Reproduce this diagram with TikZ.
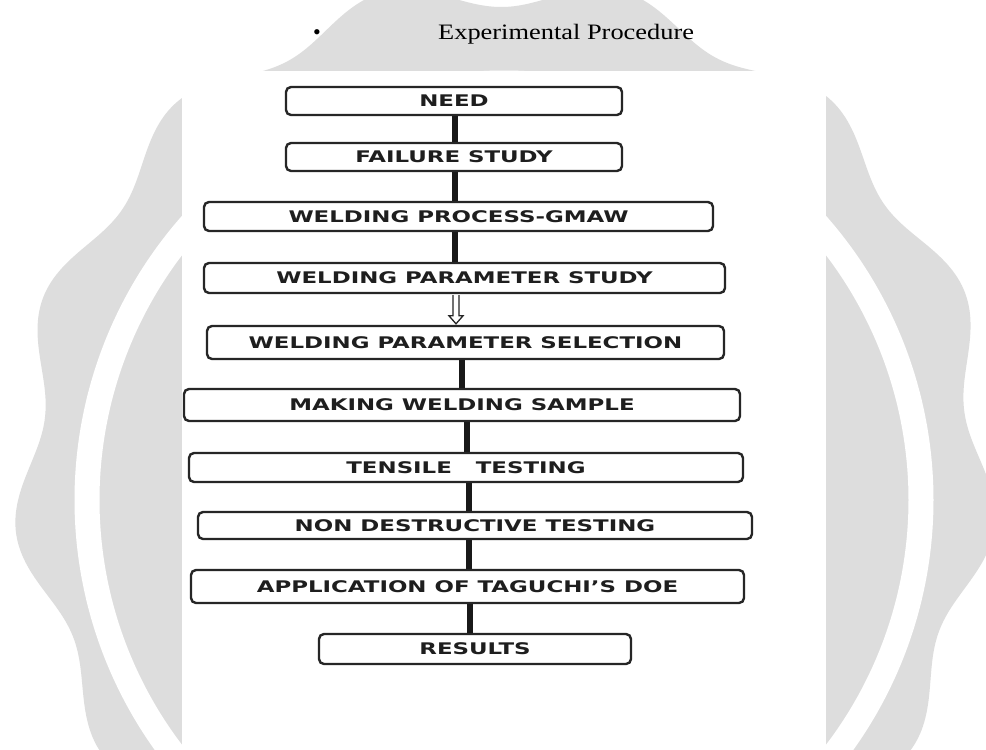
\documentclass[tikz,border=0pt]{standalone}
\usepackage{fontspec}
\setmainfont{Liberation Serif}
\newfontfamily\boxfont{DejaVu Sans}[FakeStretch=1.43]
\newfontfamily\titlefont{Liberation Serif}[FakeStretch=1.2]
\usetikzlibrary{calc}
\definecolor{wm}{RGB}{221,221,221}
\definecolor{ink}{RGB}{30,30,30}
\pgfdeclarelayer{wmlayer}
\pgfdeclarelayer{connlayer}
\pgfsetlayers{wmlayer,connlayer,main}
\tikzset{
  stepbox/.style={draw=black!85, line width=2.4pt, rounded corners=5pt, fill=white,
    inner sep=0pt, text=ink, font=\boxfont\bfseries\fontsize{16}{18}\selectfont},
  conn/.style={line width=6pt, draw=black!90},
  hollowarrow/.style={draw=black!85, line width=1.3pt, fill=white},
}
\begin{document}
\begin{tikzpicture}[x=1pt,y=-1pt]
\useasboundingbox (0,0) rectangle (986,750);
\begin{pgfonlayer}{wmlayer}
\fill[white] (0,0) rectangle (986,750);
% watermark seal
\fill[wm] plot[domain=0:360,samples=361,smooth]
  ({505+(478+15*cos(13*(\x-145)))*cos(\x)},{470+(478+15*cos(13*(\x-145)))*sin(\x)}) -- cycle;
\draw[white, line width=25pt] plot[domain=0:360,samples=181,smooth]
  ({504+417*cos(\x)},{500+417*sin(\x)}) -- cycle;
% white panel
\fill[white] (182,71) rectangle (826,750);
\end{pgfonlayer}
% title
\node[font=\fontsize{22}{24}\selectfont, inner sep=0pt] (bullet) at (317,35) {•};
\node[font=\titlefont\fontsize{22}{24}\selectfont, anchor=base west, inner sep=0pt] (title) at (438,39) {Experimental Procedure};
% boxes
\node[stepbox, minimum width=336pt, minimum height=28pt] (need)  at (454,101)   {NEED};
\node[stepbox, minimum width=336pt, minimum height=28pt] (fail)  at (454,157)   {FAILURE STUDY};
\node[stepbox, minimum width=509pt, minimum height=29pt] (gmaw)  at (458.5,216.5) {WELDING PROCESS-GMAW};
\node[stepbox, minimum width=521pt, minimum height=30pt] (study) at (464.5,278) {WELDING PARAMETER STUDY};
\node[stepbox, minimum width=517pt, minimum height=33pt] (sel)   at (465.5,342.5) {WELDING PARAMETER SELECTION};
\node[stepbox, minimum width=556pt, minimum height=32pt] (make)  at (462,405)   {MAKING WELDING SAMPLE};
\node[stepbox, minimum width=554pt, minimum height=29pt] (tens)  at (466,467.5) {TENSILE\ \ \ TESTING};
\node[stepbox, minimum width=554pt, minimum height=27pt] (ndt)   at (475,525.5) {NON DESTRUCTIVE TESTING};
\node[stepbox, minimum width=553pt, minimum height=33pt] (app)   at (467.5,586.5) {APPLICATION OF TAGUCHI’S DOE};
\node[stepbox, minimum width=312pt, minimum height=30pt] (res)   at (475,649)   {RESULTS};
% connector columns
\coordinate (c1) at (455,0);
\coordinate (c2) at (455,0);
\coordinate (c3) at (455,0);
\coordinate (c4) at (456,0);
\coordinate (c5) at (462,0);
\coordinate (c6) at (467,0);
\coordinate (c7) at (469,0);
\coordinate (c8) at (469,0);
\coordinate (c9) at (470,0);
\begin{pgfonlayer}{connlayer}
\draw[conn] (need.south -| c1) -- (fail.north -| c1);
\draw[conn] (fail.south -| c2) -- (gmaw.north -| c2);
\draw[conn] (gmaw.south -| c3) -- (study.north -| c3);
\draw[conn] (sel.south -| c5) -- (make.north -| c5);
\draw[conn] (make.south -| c6) -- (tens.north -| c6);
\draw[conn] (tens.south -| c7) -- (ndt.north -| c7);
\draw[conn] (ndt.south -| c8) -- (app.north -| c8);
\draw[conn] (app.south -| c9) -- (res.north -| c9);
\end{pgfonlayer}
\draw[hollowarrow] ($(study.south -| c4)+(-3,1)$) -- ($(sel.north -| c4)+(-3,-9)$) -- ++(-4,0)
  -- ($(sel.north -| c4)+(0,-1)$) -- ($(sel.north -| c4)+(7,-9)$) -- ++(-4,0) -- ($(study.south -| c4)+(3,1)$);
\end{tikzpicture}
\end{document}
